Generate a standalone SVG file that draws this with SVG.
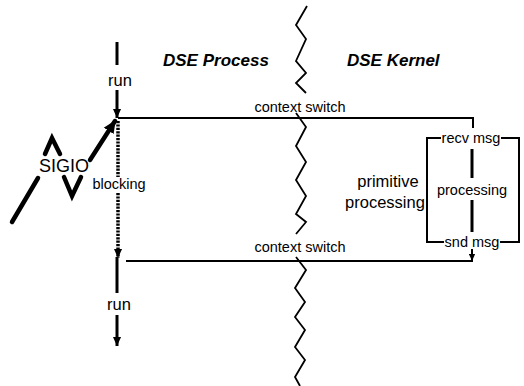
<svg xmlns="http://www.w3.org/2000/svg" width="524" height="386" viewBox="0 0 524 386">
<style>
text{font-family:"Liberation Sans",Arial,sans-serif;fill:#000}
.hd{font-size:17px;font-weight:bold;font-style:italic}
.lb{font-size:14.5px;text-anchor:middle}
.big{font-size:16.5px;text-anchor:middle}
.ln{stroke:#000;fill:none;stroke-width:2}
.thick{stroke:#000;fill:none;stroke-width:3}
.bolt{stroke:#000;fill:none;stroke-width:4.5;stroke-linecap:round;stroke-linejoin:miter}
.dot{stroke:#000;fill:none;stroke-width:3.5;stroke-dasharray:2.2 1.2}
.zz{stroke:#000;fill:none;stroke-width:1.8;stroke-linejoin:miter}
</style>
<defs>
<marker id="ah" viewBox="0 0 10 10" refX="10" refY="5" markerWidth="9" markerHeight="9" markerUnits="userSpaceOnUse" orient="auto"><path d="M0,0.5 L10,5 L0,9.5 z" fill="#000"/></marker>
<marker id="ahb" viewBox="0 0 10 10" refX="9" refY="5" markerWidth="13" markerHeight="13" markerUnits="userSpaceOnUse" orient="auto"><path d="M0,0.5 L10,5 L0,9.5 z" fill="#000"/></marker>
<marker id="ahs" viewBox="0 0 10 10" refX="10" refY="5" markerWidth="7" markerHeight="7" markerUnits="userSpaceOnUse" orient="auto"><path d="M0,0.5 L10,5 L0,9.5 z" fill="#000"/></marker>
</defs>
<rect width="524" height="386" fill="#fff"/>

<g id="headers">
<text class="hd" x="163" y="66">DSE Process</text>
<text class="hd" x="347" y="66">DSE Kernel</text>
</g>

<g id="boundary">
<polyline class="zz" points="307,6 296,25 306,39 296,61 306,73 296,83 306,93"/>
<polyline class="zz" points="296,113 306,127 296,146 306,162 296,180 306,196 296,214 306,222 296,234"/>
<polyline class="zz" points="296,257 306,270 295,288 305,302 295,317 305,330 295,347 305,360 295,377 300,386"/>
</g>

<g id="process-lane">
<line class="thick" x1="117" y1="42" x2="117" y2="65"/>
<text class="lb" x="120" y="86" style="font-size:16.5px">run</text>
<line class="thick" x1="117" y1="90" x2="117" y2="118" marker-end="url(#ah)"/>
<line class="dot" x1="118" y1="121" x2="118" y2="177"/>
<text class="lb" x="119" y="189" style="font-size:14.5px">blocking</text>
<line class="dot" x1="118" y1="193" x2="118" y2="258" marker-end="url(#ah)"/>
<line class="thick" x1="117" y1="257" x2="117" y2="293"/>
<text class="lb" x="119" y="310" style="font-size:16.5px">run</text>
<line class="thick" x1="117" y1="315" x2="117" y2="346" marker-end="url(#ah)"/>
</g>

<g id="sigio">
<line class="bolt" x1="12" y1="222" x2="38" y2="178"/>
<polyline class="bolt" points="45,154 52,138 60,154"/>
<text x="64" y="172" style="font-size:18px;text-anchor:middle">SIGIO</text>
<polyline class="bolt" points="64,177 72,196 81,177"/>
<line class="bolt" x1="90" y1="160" x2="115" y2="121" marker-end="url(#ahb)"/>
</g>

<g id="kernel-box">
<polyline class="ln" points="441,138 427,138 427,242 444,242"/>
<polyline class="ln" points="501,138 519,138 519,242 500,242"/>
<text class="lb" x="471" y="143">recv msg</text>
<line class="thick" x1="472" y1="149" x2="472" y2="178"/>
<text class="lb" x="472" y="195">processing</text>
<line class="thick" x1="472" y1="200" x2="472" y2="232"/>
<text class="lb" x="472" y="247">snd msg</text>
<text class="big" x="388" y="187">primitive</text>
<text class="big" x="385" y="208">processing</text>
</g>

<g id="connectors">
<polyline class="ln" points="118,118 473,118 473,128"/>
<text class="lb" x="300" y="112">context switch</text>
<line class="ln" x1="126" y1="261" x2="473" y2="261"/>
<line class="ln" x1="472" y1="249" x2="472" y2="261" marker-end="url(#ahs)"/>
<text class="lb" x="300" y="252">context switch</text>
</g>
</svg>
